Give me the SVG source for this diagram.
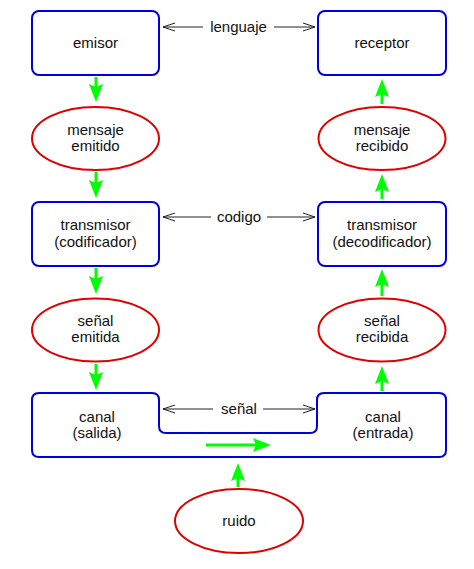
<svg xmlns="http://www.w3.org/2000/svg" width="474" height="569" viewBox="0 0 474 569">
<style>
.box{fill:#fff;stroke:#0000dd;stroke-width:2}
.ell{fill:#fff;stroke:#e00000;stroke-width:2}
.t{font-family:"Liberation Sans",Arial,sans-serif;font-size:15px;fill:#111;text-anchor:middle}
.g{stroke:#00ff00;stroke-width:3;fill:none;marker-end:url(#ga)}
.kl{stroke:#222;stroke-width:1;fill:none;marker-start:url(#ka)}
.kr{stroke:#222;stroke-width:1;fill:none;marker-end:url(#ka)}
</style>
<defs>
<marker id="ga" markerUnits="userSpaceOnUse" viewBox="0 -7 18 14" markerWidth="18" markerHeight="14" refX="3" refY="0" orient="auto">
<path d="M0,-7 L18,0 L0,7 L3,0 Z" fill="#00ff00"/>
</marker>
<marker id="ka" markerUnits="userSpaceOnUse" viewBox="-1 -5 14 10" markerWidth="14" markerHeight="10" refX="12" refY="0" orient="auto-start-reverse">
<path d="M0,-4 L12,0 L0,4" fill="none" stroke="#222" stroke-width="1"/>
</marker>
</defs>
<rect width="474" height="569" fill="#fff"/>
<g id="emisor"><rect class="box" x="32" y="11" width="127" height="64" rx="7"/><text class="t" x="95.5" y="48">emisor</text></g>
<g id="receptor"><rect class="box" x="318" y="11" width="128" height="64" rx="7"/><text class="t" x="382" y="48">receptor</text></g>
<g id="mensaje-emitido"><ellipse class="ell" cx="95.5" cy="138.5" rx="63.5" ry="31.5"/><text class="t" x="95.5" y="135">mensaje</text><text class="t" x="95.5" y="151">emitido</text></g>
<g id="mensaje-recibido"><ellipse class="ell" cx="382" cy="138.5" rx="63.5" ry="31.5"/><text class="t" x="382" y="135">mensaje</text><text class="t" x="382" y="151">recibido</text></g>
<g id="transmisor"><rect class="box" x="32" y="202" width="127" height="64" rx="7"/><text class="t" x="95.5" y="230">transmisor</text><text class="t" x="95.5" y="247">(codificador)</text></g>
<g id="receptor-decodificador"><rect class="box" x="318" y="202" width="128" height="64" rx="7"/><text class="t" x="382" y="230">transmisor</text><text class="t" x="382" y="247">(decodificador)</text></g>
<g id="senal-emitida"><ellipse class="ell" cx="95.5" cy="330" rx="63.5" ry="31.5"/><text class="t" x="95.5" y="326">señal</text><text class="t" x="95.5" y="342">emitida</text></g>
<g id="senal-recibida"><ellipse class="ell" cx="382" cy="330" rx="63.5" ry="31.5"/><text class="t" x="382" y="326">señal</text><text class="t" x="382" y="342">recibida</text></g>
<g id="canal"><path class="box" d="M39,393 H152 Q159,393 159,400 V426 Q159,433 166,433 H310 Q317,433 317,426 V400 Q317,393 324,393 H439 Q446,393 446,400 V450 Q446,457 439,457 H39 Q32,457 32,450 V400 Q32,393 39,393 Z"/><text class="t" x="97" y="422">canal</text><text class="t" x="97" y="438">(salida)</text><text class="t" x="383" y="422">canal</text><text class="t" x="383" y="438">(entrada)</text></g>
<g id="ruido"><ellipse class="ell" cx="239" cy="521" rx="64" ry="32"/><text class="t" x="239" y="526">ruido</text></g>
<g id="connectors">
<line class="g" x1="96" y1="77" x2="96" y2="87"/>
<line class="g" x1="96" y1="172" x2="96" y2="183"/>
<line class="g" x1="96" y1="268" x2="96" y2="279"/>
<line class="g" x1="96" y1="364" x2="96" y2="375"/>
<line class="g" x1="382" y1="104" x2="382" y2="94"/>
<line class="g" x1="382" y1="199" x2="382" y2="189"/>
<line class="g" x1="382" y1="296" x2="382" y2="284"/>
<line class="g" x1="382" y1="391" x2="382" y2="381"/>
<line class="g" x1="238" y1="487" x2="238" y2="478"/>
<line class="g" x1="206" y1="445" x2="256" y2="445"/>
<line class="kl" x1="163" y1="27" x2="203" y2="27"/>
<line class="kr" x1="274" y1="27" x2="315" y2="27"/>
<line class="kl" x1="163" y1="217" x2="211" y2="217"/>
<line class="kr" x1="267" y1="217" x2="315" y2="217"/>
<line class="kl" x1="163" y1="409" x2="213" y2="409"/>
<line class="kr" x1="263" y1="409" x2="315" y2="409"/>
<text class="t" x="238.5" y="32">lenguaje</text>
<text class="t" x="239" y="222">codigo</text>
<text class="t" x="239" y="414">señal</text>
</g>
</svg>
